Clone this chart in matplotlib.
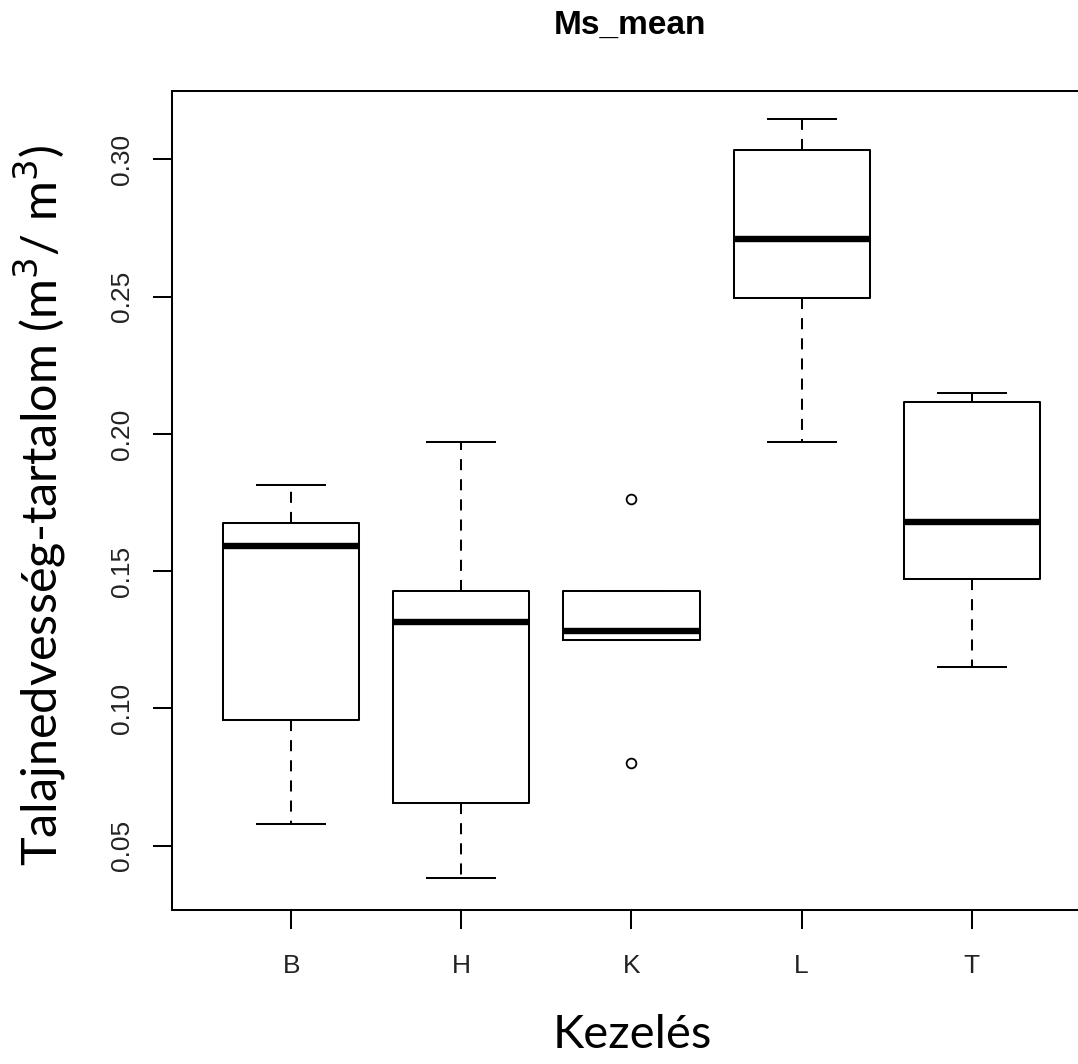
"""
Ms_mean boxplot, kezelésenként (B, H, K, L, T)
"""

import matplotlib.pyplot as plt
import matplotlib

matplotlib.rcParams['font.family'] = ['Liberation Sans', 'DejaVu Sans']

# ==================== adatok ====================
kezeles = ["B", "H", "K", "L", "T"]
whislo = [0.0578, 0.0382, 0.1248, 0.1969, 0.1152]
q1 = [0.0958, 0.0656, 0.1248, 0.2494, 0.1472]
med = [0.1592, 0.1316, 0.1282, 0.2709, 0.1678]
q3 = [0.1677, 0.1428, 0.1428, 0.3034, 0.2115]
whishi = [0.1815, 0.1969, 0.1428, 0.3146, 0.2150]
fliers = [[], [], [0.1762, 0.0800], [], []]

yticks = [0.05, 0.10, 0.15, 0.20, 0.25, 0.30]

stats = []
for i, name in enumerate(kezeles):
    stats.append({
        "label": name,
        "whislo": whislo[i],
        "q1": q1[i],
        "med": med[i],
        "q3": q3[i],
        "whishi": whishi[i],
        "fliers": fliers[i],
    })

fig = plt.figure(figsize=(10.78, 10.64), dpi=100)
ax = fig.add_axes([0.1596, 0.1447, 1.012 - 0.1596, 0.9145 - 0.1447])

lw = 1.45
ax.bxp(
    stats,
    positions=range(1, len(kezeles) + 1),
    widths=0.8,
    showfliers=True,
    boxprops=dict(color='black', linewidth=lw),
    medianprops=dict(color='black', linewidth=4.6, solid_capstyle='butt'),
    whiskerprops=dict(color='black', linewidth=lw, linestyle=(0, (5.5, 4.5))),
    capprops=dict(color='black', linewidth=lw),
    capwidths=0.4,
    flierprops=dict(marker='o', markersize=7, markerfacecolor='none',
                    markeredgecolor='black', markeredgewidth=1.3),
)

ax.set_xlim(0.3, 5.7)
ax.set_ylim(0.0266, 0.3249)

ax.set_yticks(yticks)
ax.set_yticklabels([f"{v:.2f}" for v in yticks], rotation=90, va='center',
                   fontsize=19, color='#222222')
ax.set_xticks(range(1, len(kezeles) + 1))
ax.set_xticklabels(kezeles, fontsize=19, color='#222222')

ax.tick_params(axis='both', length=13.7, width=lw, color='black')
ax.tick_params(axis='y', pad=14)
ax.tick_params(axis='x', pad=18)

for sp in ax.spines.values():
    sp.set_linewidth(lw)

# cím és tengelyfeliratok
fig.text(630 / 1078, 1 - 25 / 1064, "Ms_mean", ha='center', va='center',
         fontsize=24, fontweight='bold', family=['Liberation Sans', 'DejaVu Sans'])
fig.text(632 / 1078, 1 - 1035 / 1064, "Kezelés", ha='center', va='center',
         fontsize=34, family=['Lato', 'DejaVu Sans'])
fig.text(40 / 1078, 1 - 505 / 1064, r"Talajnedvesség-tartalom (m$^3$/ m$^3$)",
         ha='center', va='center', rotation=90,
         fontsize=35, family=['Lato', 'DejaVu Sans'])

fig.savefig("out.png", dpi=100)
